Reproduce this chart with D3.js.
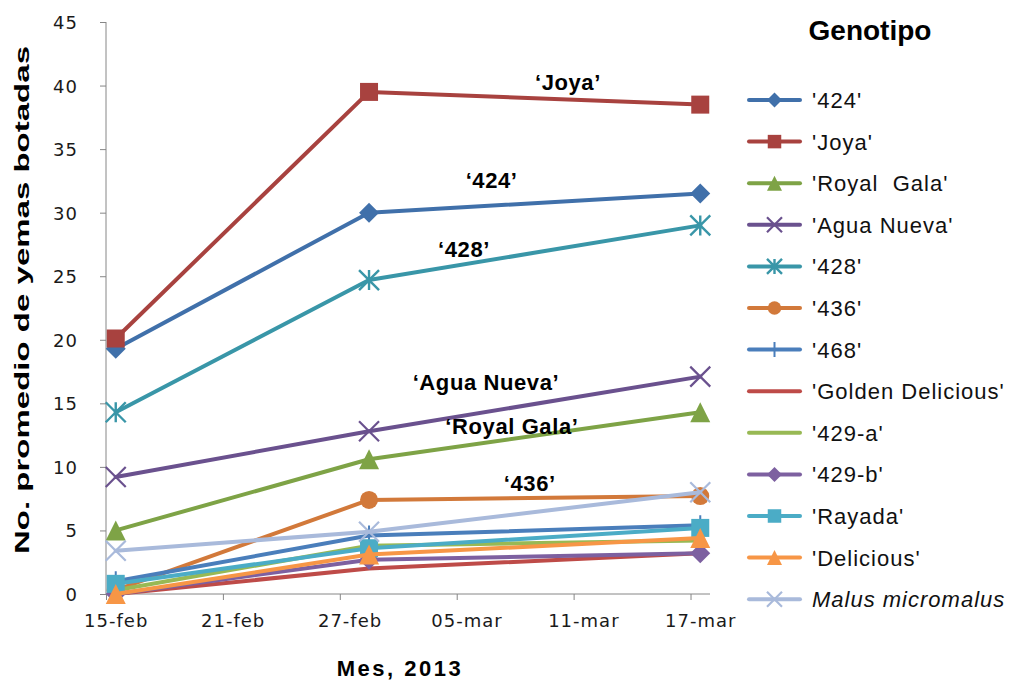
<!DOCTYPE html>
<html><head><meta charset="utf-8">
<script src="https://cdn.jsdelivr.net/npm/d3@7"></script>
<style>body{margin:0;background:#fff}svg{display:block}</style>
</head><body>
<svg id="c" width="1019" height="682"></svg>
<script>
// ---- data ----
const dates = ["2013-02-15", "2013-02-28", "2013-03-17"];
const seriesNames = ["'424'", "'Joya'", "'Royal  Gala'", "'Agua Nueva'", "'428'", "'436'", "'468'",
  "'Golden Delicious'", "'429-a'", "'429-b'", "'Rayada'", "'Delicious'", "Malus micromalus"];
const v424 = [19.3, 30.0, 31.5];
const vJoya = [20.1, 39.5, 38.5];
const vRoyalGala = [5.0, 10.6, 14.3];
const vAguaNueva = [9.2, 12.8, 17.1];
const v428 = [14.3, 24.7, 29.0];
const v436 = [0.3, 7.4, 7.7];
const v468 = [1.0, 4.6, 5.4];
const vGolden = [0.0, 2.0, 3.2];
const v429a = [0.3, 3.8, 4.2];
const v429b = [0.0, 2.7, 3.2];
const vRayada = [0.8, 3.6, 5.2];
const vDelicious = [0.0, 3.1, 4.4];
const vMalus = [3.4, 4.9, 8.0];
const seriesValues = [v424, vJoya, vRoyalGala, vAguaNueva, v428, v436, v468, vGolden, v429a, v429b, vRayada, vDelicious, vMalus];
const seriesColors = ["#4070AA", "#A8423F", "#7EA346", "#6A518E", "#3996A8", "#D2793A", "#4A7EBB",
  "#BE4B48", "#98B954", "#7D60A0", "#4BACC6", "#F79646", "#A9BADB"];
const seriesMarkers = ["diamond", "square", "triangle", "x", "asterisk", "circle", "plus",
  "none", "none", "diamond", "square", "triangle", "x"];
const xTickLabels = ["15-feb", "21-feb", "27-feb", "05-mar", "11-mar", "17-mar"];
const xTickDates = ["2013-02-15", "2013-02-21", "2013-02-27", "2013-03-05", "2013-03-11", "2013-03-17"];
const yTicks = [0, 5, 10, 15, 20, 25, 30, 35, 40, 45];
const annotationTexts = ["\u2018Joya\u2019", "\u2018424\u2019", "\u2018428\u2019", "\u2018Agua Nueva\u2019", "\u2018Royal Gala\u2019", "\u2018436\u2019"];
const annotationDates = ["2013-03-10T17:00Z", "2013-03-06T19:00Z", "2013-03-05T09:00Z", "2013-03-06T12:00Z", "2013-03-07T20:00Z", "2013-03-08T18:00Z"];
const annotationValues = [39.65, 31.95, 26.5, 16.05, 12.6, 8.1];

// ---- layout ----
const parse = d3.utcParse("%Y-%m-%d");
const HALF = 12 * 3600 * 1000;
const svg = d3.select("#c");
const x = d3.scaleUtc().domain([parse("2013-02-15"), parse("2013-03-18")]).range([106, 710]);
const y = d3.scaleLinear().domain([0, 45]).range([594, 22]);
const axisColor = "#868686";

// y axis
const yAxis = svg.append("g").attr("transform", "translate(106,0)")
  .call(d3.axisLeft(y).tickValues(yTicks).tickSize(6).tickPadding(22).tickFormat(d3.format("d")));
yAxis.select(".domain").attr("stroke", axisColor).attr("d", `M0,${y(45)}V${y(0)}`);
yAxis.selectAll(".tick line").attr("stroke", axisColor);
yAxis.selectAll(".tick text").attr("font-family", "DejaVu Sans").attr("font-size", 18)
  .attr("letter-spacing", 1).attr("fill", "#1a1a1a").attr("dy", "0.36em");

// x axis
const xAxis = svg.append("g").attr("transform", `translate(0,${y(0)})`)
  .call(d3.axisBottom(x).tickValues(xTickDates.map(parse)).tickSize(6).tickPadding(14)
    .tickFormat((d, i) => xTickLabels[i]));
xAxis.select(".domain").attr("stroke", axisColor).attr("d", `M${x.range()[0]},0H${x.range()[1]}`);
xAxis.selectAll(".tick line").attr("stroke", axisColor);
xAxis.selectAll(".tick text").attr("font-family", "DejaVu Sans").attr("font-size", 18)
  .attr("letter-spacing", 1).attr("fill", "#1a1a1a")
  .attr("transform", d => `translate(${x(new Date(+d + HALF)) - x(d)},0)`);

// axis titles
svg.append("text").attr("transform", `translate(29,300) rotate(-90)`)
  .attr("text-anchor", "middle").attr("font-family", "Liberation Sans").attr("font-weight", "bold")
  .attr("font-size", 21).attr("textLength", 508).attr("lengthAdjust", "spacingAndGlyphs")
  .text("No. promedio de yemas botadas");
svg.append("text").attr("x", 400).attr("y", 676).attr("text-anchor", "middle")
  .attr("font-family", "Liberation Sans").attr("font-weight", "bold").attr("font-size", 22)
  .attr("letter-spacing", 2.5).text("Mes, 2013");

// marker drawing
function drawMarker(g, type, color, s) {
  const h = s / 2;
  if (type === "diamond") g.append("path").attr("d", `M0,${-h}L${h},0L0,${h}L${-h},0Z`).attr("fill", color);
  else if (type === "square") g.append("rect").attr("x", -h * 0.9).attr("y", -h * 0.9).attr("width", s * 0.9).attr("height", s * 0.9).attr("fill", color);
  else if (type === "triangle") g.append("path").attr("d", `M0,${-h}L${h},${h}L${-h},${h}Z`).attr("fill", color);
  else if (type === "circle") g.append("circle").attr("r", h * 0.9).attr("fill", color);
  else if (type === "x") g.append("path").attr("d", `M${-h},${-h}L${h},${h}M${h},${-h}L${-h},${h}`).attr("stroke", color).attr("stroke-width", 2.2);
  else if (type === "asterisk") g.append("path").attr("d", `M${-h},${-h}L${h},${h}M${h},${-h}L${-h},${h}M0,${-h}V${h}`).attr("stroke", color).attr("stroke-width", 2.4);
  else if (type === "plus") g.append("path").attr("d", `M0,${-h}V${h}M${-h*0.5},0H${h*0.5}`).attr("stroke", color).attr("stroke-width", 2);
}

// series
const line = d3.line().x(d => x(new Date(+parse(d.date) + HALF))).y(d => y(d.v));
seriesValues.forEach((vals, i) => {
  const pts = vals.map((v, j) => ({date: dates[j], v}));
  const g = svg.append("g");
  g.append("path").datum(pts).attr("d", line).attr("fill", "none")
    .attr("stroke", seriesColors[i]).attr("stroke-width", 4).attr("stroke-linejoin", "round").attr("stroke-linecap", "round");
  pts.forEach(p => {
    const m = g.append("g").attr("transform", `translate(${x(new Date(+parse(p.date) + HALF))},${y(p.v)})`);
    drawMarker(m, seriesMarkers[i], seriesColors[i], 20);
  });
});

// annotations
annotationTexts.forEach((t, i) => {
  svg.append("text").attr("x", x(d3.isoParse(annotationDates[i]))).attr("y", y(annotationValues[i]))
    .attr("text-anchor", "middle")
    .attr("font-family", "Liberation Sans").attr("font-weight", "bold").attr("font-size", 22)
    .attr("letter-spacing", 0.6).text(t);
});

// legend
svg.append("text").attr("x", 870).attr("y", 40).attr("text-anchor", "middle")
  .attr("font-family", "Liberation Sans").attr("font-weight", "bold").attr("font-size", 28).text("Genotipo");
seriesNames.forEach((name, i) => {
  const ly = 100 + i * 41.6;
  const g = svg.append("g").attr("transform", `translate(0,${ly})`);
  g.append("line").attr("x1", 749).attr("x2", 800).attr("y1", 0).attr("y2", 0)
    .attr("stroke", seriesColors[i]).attr("stroke-width", 4).attr("stroke-linecap", "round");
  const m = g.append("g").attr("transform", "translate(774.5,0)");
  drawMarker(m, seriesMarkers[i], seriesColors[i], 15);
  const t = g.append("text").attr("x", 812).attr("y", 8).attr("font-family", "Liberation Sans")
    .attr("font-size", 22).attr("letter-spacing", 1).attr("fill", "#111").text(name);
  if (i === seriesNames.length - 1) t.attr("font-style", "italic");
  else t.style("white-space", "pre");
});
</script>
</body></html>
